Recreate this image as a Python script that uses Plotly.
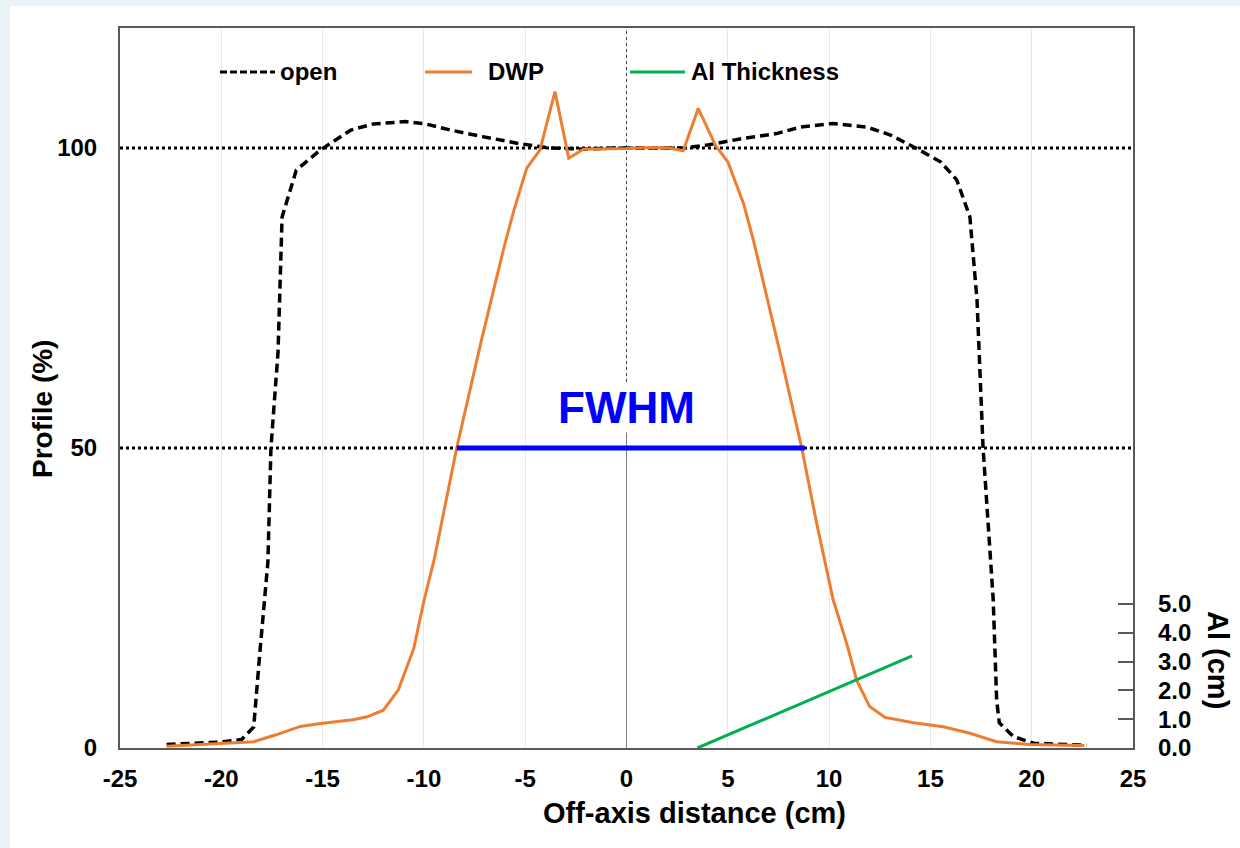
import plotly.graph_objects as go

# Open-field profile: off-axis distance (cm) vs. relative dose (%)
open_x = [-22.7, -21.0, -20.0, -19.0, -18.4, -18.1, -17.7, -17.55, -17.2, -17.0,
          -16.3, -15.1, -13.6, -12.5, -10.9, -9.9, -8.7, -7.1, -5.4, -3.8,
          -2.1, -0.5, 1.0, 2.8, 4.0, 5.75, 7.4, 8.6, 10.2, 11.85,
          13.0, 14.3, 15.5, 16.3, 16.95, 17.3, 17.6, 18.1, 18.27, 18.4,
          19.1, 20.1, 22.4, 22.7]
open_y = [0.6, 0.8, 1.0, 1.4, 3.5, 15.8, 31.0, 50.0, 66.0, 88.5,
          96.3, 99.7, 103.0, 104.0, 104.4, 104.0, 103.0, 101.9, 100.8, 100.0,
          99.8, 100.0, 100.0, 100.0, 100.5, 101.6, 102.4, 103.5, 104.1, 103.5,
          102.2, 99.95, 97.7, 94.7, 88.5, 74.7, 50.0, 24.7, 8.0, 4.2,
          1.9, 0.8, 0.5, 0.5]

# Profile with the dynamic wedge pair (DWP)
dwp_x = [-22.7, -19.6, -18.4, -17.3, -16.1, -15.1, -13.5, -12.8, -12.0, -11.26,
         -10.5, -10.0, -9.5, -8.38, -7.2, -6.08, -5.6, -4.93, -4.27, -3.53,
         -2.85, -2.13, 0.0, 1.16, 2.1, 2.8, 3.54, 4.4, 5.0, 5.77,
         6.26, 7.55, 8.65, 9.39, 10.2, 10.87, 11.36, 12.0, 12.76, 14.16,
         15.64, 16.95, 18.27, 19.9, 22.6]
dwp_y = [0.3, 0.9, 1.05, 2.2, 3.6, 4.1, 4.7, 5.2, 6.3, 9.7,
         16.6, 24.5, 31.3, 50.0, 67.4, 83.0, 89.1, 96.6, 99.7, 109.4,
         98.3, 99.8, 99.9, 100.1, 100.0, 99.55, 106.6, 100.4, 97.7, 90.8,
         84.7, 66.3, 50.0, 37.4, 24.7, 17.4, 11.3, 6.9, 5.1, 4.2,
         3.55, 2.45, 1.05, 0.6, 0.4]

# Aluminium thickness (cm) along the wedge
al_x = [3.5, 14.1]
al_cm = [0.0, 3.2]

# Full width at half maximum of the DWP profile
fwhm_x = [-8.38, 8.8]
fwhm_y = [50, 50]

ref_levels = [50, 100]
x_ticks = [-25, -20, -15, -10, -5, 0, 5, 10, 15, 20, 25]
x_tick_text = ["-25", "-20", "-15", "-10", "-5", "0", "5", "10", "15", "20", "25"]
y_ticks = [0, 50, 100]
al_ticks = [0, 1, 2, 3, 4, 5]
series_names = ["open", "DWP", "Al Thickness"]

FONT = "Liberation Sans, Arial, sans-serif"
ORANGE = "#ED7D31"
GREEN = "#00B050"
FRAME = "#595959"
OPEN_DASH = "9px,5px"

fig = go.Figure()
fig.add_trace(go.Scatter(x=open_x, y=open_y, mode="lines", name=series_names[0],
                         line=dict(color="black", width=3.5, dash=OPEN_DASH),
                         showlegend=False))
fig.add_trace(go.Scatter(x=dwp_x, y=dwp_y, mode="lines", name=series_names[1],
                         line=dict(color=ORANGE, width=3), showlegend=False))
fig.add_trace(go.Scatter(x=al_x, y=al_cm, mode="lines", name=series_names[2],
                         yaxis="y2", line=dict(color=GREEN, width=3),
                         showlegend=False))
fig.add_trace(go.Scatter(x=fwhm_x, y=fwhm_y, mode="lines", name="FWHM",
                         line=dict(color="#0000FF", width=5), showlegend=False))

shapes = []
# white card over the tinted page
shapes.append(dict(type="rect", xref="paper", yref="paper",
                   x0=-0.1086, x1=1.12, y0=-0.16, y1=1.0306,
                   fillcolor="white", line=dict(width=0), layer="below"))
# reference levels
for lvl in ref_levels:
    shapes.append(dict(type="line", xref="x", yref="y", x0=x_ticks[0], x1=x_ticks[-1],
                       y0=lvl, y1=lvl, line=dict(color="black", width=3, dash="3px,3px"),
                       layer="between"))
# central axis
shapes.append(dict(type="line", xref="x", yref="y", x0=0, x1=0, y0=0, y1=120,
                   line=dict(color="#404040", width=1, dash="dot"), layer="between"))
shapes.append(dict(type="line", xref="x", yref="y", x0=0, x1=0, y0=0, y1=52.7,
                   line=dict(color="#7f7f7f", width=1), layer="between"))

annotations = []
# legend
legend_items = [
    (series_names[0], "black", "7px,3px", 0.0987, 0.1530, 0.1560),
    (series_names[1], ORANGE, "solid", 0.3011, 0.3475, 0.3610),
    (series_names[2], GREEN, "solid", 0.5035, 0.5578, 0.5615),
]
LEG_Y = 0.9389
for name, color, dash, sx0, sx1, tx in legend_items:
    shapes.append(dict(type="line", xref="paper", yref="paper", x0=sx0, x1=sx1,
                       y0=LEG_Y, y1=LEG_Y, line=dict(color=color, width=3, dash=dash)))
    annotations.append(dict(xref="paper", yref="paper", x=tx, y=LEG_Y, text=name,
                            showarrow=False, xanchor="left", yanchor="middle",
                            font=dict(family=FONT, size=24, color="black", weight="bold")))

annotations.append(dict(xref="x", yref="y", x=0, y=56.8, text="FWHM", showarrow=False,
                        xanchor="center", yanchor="middle", bgcolor="white", borderpad=0,
                        font=dict(family=FONT, size=44, color="#0000FF", weight="bold")))
annotations.append(dict(xref="paper", yref="paper", x=-0.077, y=0.4708,
                        text="Profile (%)", showarrow=False, textangle=-90,
                        xanchor="center", yanchor="middle",
                        font=dict(family=FONT, size=28, color="black", weight="bold")))
annotations.append(dict(xref="paper", yref="paper", x=0.5676, y=-0.0903,
                        text="Off-axis distance (cm)", showarrow=False,
                        xanchor="center", yanchor="middle",
                        font=dict(family=FONT, size=29, color="black", weight="bold")))
annotations.append(dict(xref="paper", yref="paper", x=1.0839, y=0.1222,
                        text="Al (cm)", showarrow=False, textangle=90,
                        xanchor="center", yanchor="middle",
                        font=dict(family=FONT, size=29, color="black", weight="bold")))

tick_font = dict(family=FONT, size=24, color="black", weight="bold")

fig.update_layout(
    width=1240, height=848,
    margin=dict(l=120, r=107, t=28, b=100),
    paper_bgcolor="#eaf3f6", plot_bgcolor="white",
    shapes=shapes, annotations=annotations,
    xaxis=dict(range=[x_ticks[0], x_ticks[-1]], tickvals=x_ticks, ticktext=x_tick_text,
               ticks="", showgrid=True, gridcolor="#e9e9e9", gridwidth=1, zeroline=False,
               showline=True, mirror=True, linecolor=FRAME, linewidth=2,
               tickfont=tick_font, ticklabelstandoff=8),
    yaxis=dict(range=[0, 120], tickvals=y_ticks, ticks="", showgrid=False,
               zeroline=False, showline=True, mirror=True, linecolor=FRAME,
               linewidth=2, tickfont=tick_font, ticklabelstandoff=16),
    yaxis2=dict(range=[0, 25], overlaying="y", side="right", tickvals=al_ticks,
                tickformat=".1f", ticks="inside", ticklen=15, tickwidth=1.5,
                tickcolor=FRAME, showgrid=False, zeroline=False, showline=False,
                tickfont=tick_font, ticklabelstandoff=24),
)

fig.write_html("out.html")
